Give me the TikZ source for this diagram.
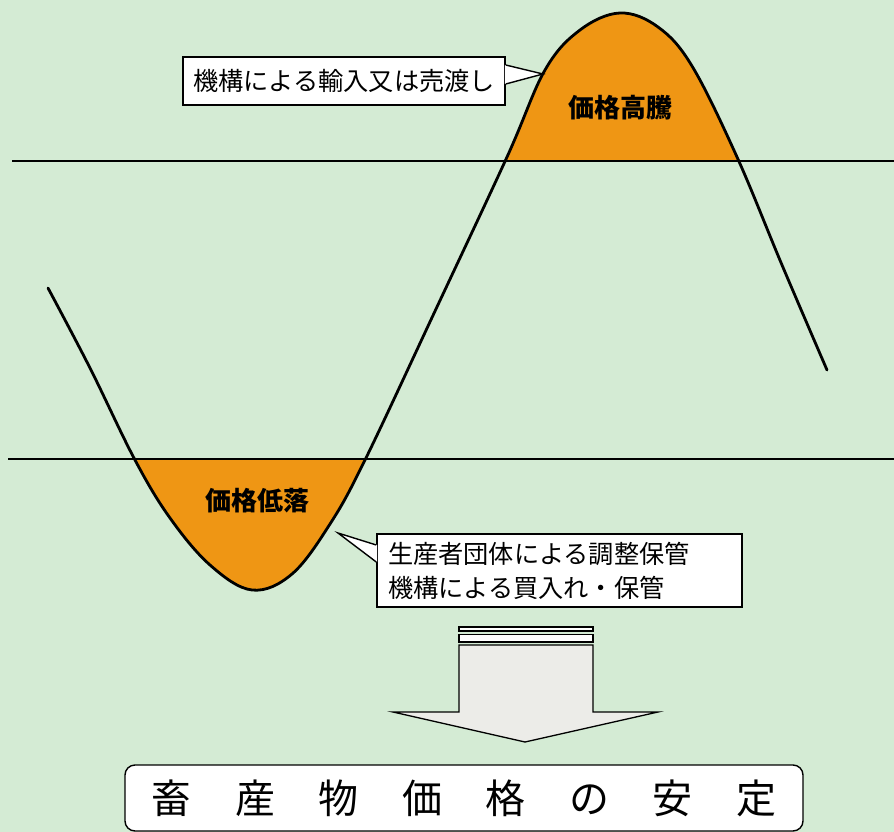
\documentclass[tikz,border=0pt]{standalone}
\usepackage{fontspec}
\newfontfamily\jp{Noto Sans CJK JP}
\definecolor{bg}{HTML}{D4EBD4}
\definecolor{org}{HTML}{EF9614}
\definecolor{arrfill}{HTML}{ECECE8}
\newcommand\sgap{\hspace{43.5pt}}
\begin{document}
\begin{tikzpicture}[x=1pt,y=-1pt,
  wave/.style={line width=2.8pt, line join=round, line cap=round},
  hline/.style={line width=1.8pt},
  box/.style={draw, line width=1.4pt, fill=white, inner sep=0pt},
  txt/.style={font=\jp\fontsize{25.2}{34}\selectfont},
  lbl/.style={font=\jp\bfseries\fontsize{26}{26}\selectfont},
  pointer/.style={line width=1.4pt, line join=miter}]
\useasboundingbox (0,0) rectangle (894,832);
\fill[bg] (0,0) rectangle (894,832);
% orange hump (price surge)
\begin{scope}
  \clip (500,0) rectangle (750,161);
  \fill[org] plot[smooth,tension=0.6] coordinates {(48,288) (90,368) (135,460) (170,518) (210,565) (252,590) (292,574) (330,524) (365,460) (436,309) (507,157) (545,70) (580,30) (620,13) (658,27) (692,66) (737,157) (782,265) (827,370)} -- (827,832) -- (48,832) -- cycle;
\end{scope}
% orange trough (price fall)
\begin{scope}
  \clip (110,459) rectangle (390,620);
  \fill[org] plot[smooth,tension=0.6] coordinates {(48,288) (90,368) (135,460) (170,518) (210,565) (252,590) (292,574) (330,524) (365,460) (436,309) (507,157) (545,70) (580,30) (620,13) (658,27) (692,66) (737,157) (782,265) (827,370)} -- (827,0) -- (48,0) -- cycle;
\end{scope}
% threshold lines
\coordinate (t1) at (12,161);
\coordinate (t2) at (894,161);
\coordinate (u1) at (8,459);
\coordinate (u2) at (894,459);
\draw[hline] (t1) -- (t2);
\draw[hline] (u1) -- (u2);
% wave
\draw[wave] plot[smooth,tension=0.6] coordinates {(48,288) (90,368) (135,460) (170,518) (210,565) (252,590) (292,574) (330,524) (365,460) (436,309) (507,157) (545,70) (580,30) (620,13) (658,27) (692,66) (737,157) (782,265) (827,370)};
% labels
\node[lbl] (high) at (620,108) {価格高騰};
\node[lbl] (low) at (257,501) {価格低落};
% callout 1
\node[box, txt, minimum width=322pt, minimum height=48pt] (c1) at (344,81) {機構による輸入又は売渡し};
\coordinate (p1) at (543,74);
\fill[white] (c1.east |- 0,65) ++(-0.8,0) -- (p1) -- ([xshift=-0.8pt]c1.east |- 0,84) -- cycle;
\draw[pointer] (c1.east |- 0,65) -- (p1) -- (c1.east |- 0,84);
% callout 2
\node[box, txt, text width=343pt, inner xsep=11pt, minimum height=73pt, align=left] (c2) at (559.5,570.5) {生産者団体による調整保管\\機構による買入れ・保管};
\coordinate (p2) at (338,533);
\fill[white] ([xshift=0.8pt]c2.west |- 0,545) -- (p2) -- ([xshift=0.8pt]c2.west |- 0,562) -- cycle;
\draw[pointer] (c2.west |- 0,545) -- (p2) -- (c2.west |- 0,562);
% down arrow
\draw[line width=1.3pt, fill=white] (459,627) rectangle (593,631);
\draw[line width=1.3pt, fill=white] (459,634.5) rectangle (593,642);
\draw[line width=1.3pt, fill=arrfill, line join=miter] (459,645) -- (593,645) -- (593,712) -- (658,712) -- (525,742) -- (393,712) -- (459,712) -- cycle;
% result box
\node[draw, line width=1.4pt, fill=white, rounded corners=10pt, minimum width=678pt, minimum height=66pt, font=\jp\fontsize{40}{40}\selectfont] (res) at (464,798) {畜\sgap 産\sgap 物\sgap 価\sgap 格\sgap の\sgap 安\sgap 定};
\end{tikzpicture}
\end{document}
